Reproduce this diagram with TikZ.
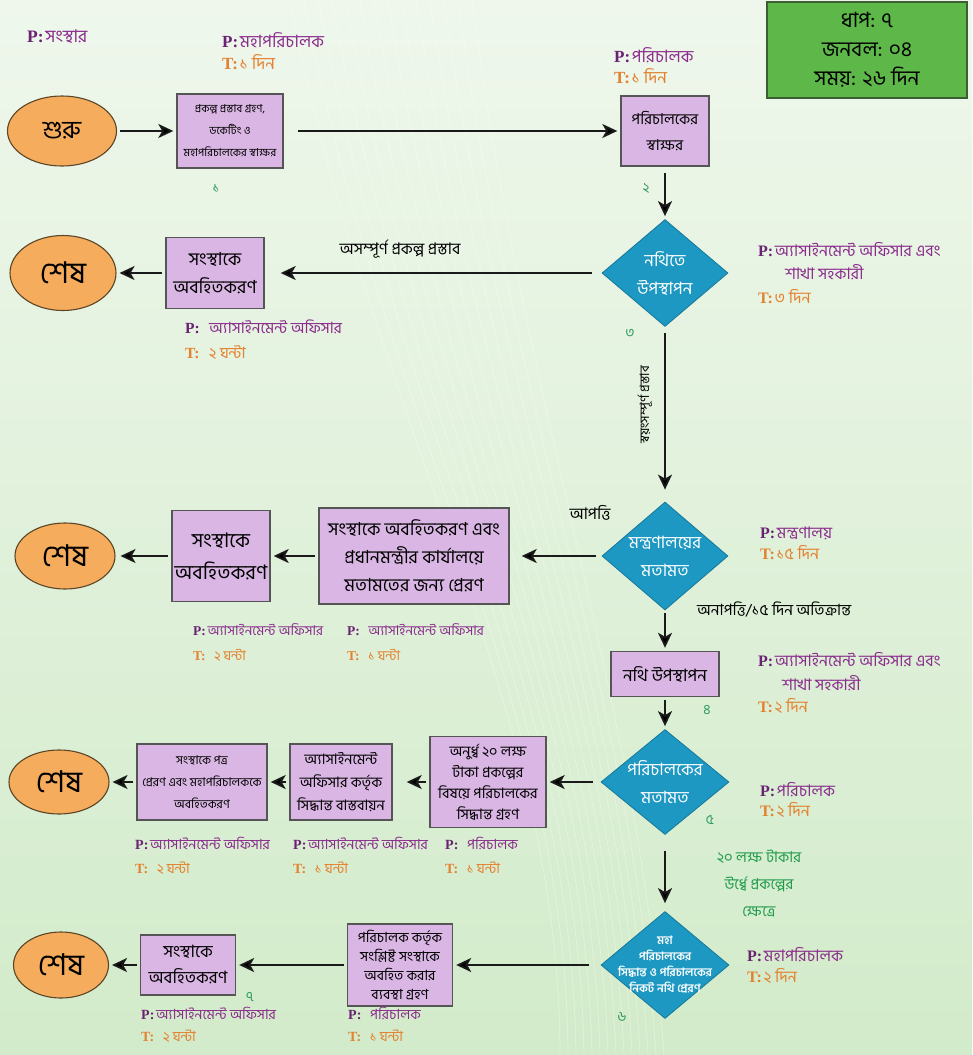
\documentclass[tikz,border=0pt]{standalone}
\usepackage{fontspec}
\newfontfamily\bn[Script=Bengali]{Hind Siliguri}
\newfontfamily\lat{Liberation Serif}
\usetikzlibrary{shapes.geometric, positioning, arrows.meta}

\definecolor{bgtop}{HTML}{EFF7EC}
\definecolor{bgbot}{HTML}{D2EBCA}
\definecolor{termfill}{HTML}{F5AC5C}
\definecolor{termline}{HTML}{5B4526}
\definecolor{taskfill}{HTML}{DAB6E4}
\definecolor{taskline}{HTML}{555555}
\definecolor{diafill}{HTML}{1C98C2}
\definecolor{dialine}{HTML}{15789A}
\definecolor{infofill}{HTML}{5DB749}
\definecolor{infoline}{HTML}{3B5E32}
\definecolor{pcol}{HTML}{8A2B8C}
\definecolor{pdark}{HTML}{6A2272}
\definecolor{tcol}{HTML}{E4802E}
\definecolor{numcol}{HTML}{2E9B5E}
\definecolor{condcol}{HTML}{1E9A4B}
\definecolor{arrowcol}{HTML}{1A1A1A}

\newcommand{\fsz}[2]{\fontsize{#1}{#2}\selectfont}
\newcommand{\who}[2][16]{{\lat\bfseries\fsz{#1}{#1}\color{pdark}P:}\,{\bn\fsz{#1}{#1}\color{pcol}#2}}
\newcommand{\took}[2][16]{{\lat\bfseries\fsz{#1}{#1}\color{tcol}T:}\,{\bn\fsz{#1}{#1}\color{tcol}#2}}

\begin{document}
\begin{tikzpicture}[x=1pt,y=-1pt,
  flow/.style={draw=arrowcol, line width=1.8pt, shorten <=3pt, shorten >=3pt,
    -{Stealth[length=15pt,width=14pt,inset=4pt]}},
  terminal/.style={ellipse, draw=termline, fill=termfill, line width=1.1pt,
    inner sep=0pt, font=\bn\fsz{30}{32}},
  task/.style={rectangle, draw=taskline, fill=taskfill, line width=1.4pt,
    align=center, inner sep=1pt},
  decision/.style={diamond, draw=dialine, fill=diafill, line width=0.8pt, inner sep=0pt},
  dtext/.style={text=white, align=center, inner sep=0pt},
  note/.style={anchor=west, inner sep=0pt},
  stepno/.style={text=numcol, font=\bn\fsz{14}{16}},
  cond/.style={font=\bn\fsz{16}{18}, text=black, inner sep=0pt}]

  % background
  \useasboundingbox (0,0) rectangle (972,1055);
  \fill[top color=bgtop, bottom color=bgbot] (0,0) rectangle (972,1055);
  \foreach \k in {0,...,13}
    \draw[white, opacity=.35, line width=.7pt]
      (290+\k*14,0) .. controls (370+\k*12,420) and (560+\k*6,700) .. (560+\k*8,1055);

  % summary
  \node[rectangle, draw=infoline, fill=infofill, line width=1.2pt,
    minimum width=200pt, minimum height=96pt, align=center,
    font=\bn\fsz{21}{29}] (info) at (867,50) {ধাপ: ৭\\জনবল: ০৪\\সময়: ২৬ দিন};

  % row 1
  \node[terminal, minimum width=109pt, minimum height=70pt, font=\bn\fsz{25}{28}]
    (start) at (62,131) {শুরু};
  \node[task, minimum width=106pt, minimum height=74pt, font=\bn\fsz{11}{22}]
    (sign1) at (230,131) {প্রকল্প প্রস্তাব গ্রহণ,\\ডকেটিং ও\\মহাপরিচালকের স্বাক্ষর};
  \node[task, minimum width=88pt, minimum height=70pt, font=\bn\fsz{15}{26}]
    (sign2) at (665,131) {পরিচালকের\\স্বাক্ষর};

  % row 2
  \node[decision, minimum width=126pt, minimum height=107pt] (file) at (665,273) {};
  \node[dtext, font=\bn\fsz{17}{28}] (filetxt) at (file) {নথিতে\\উপস্থাপন};
  \node[task, minimum width=98pt, minimum height=71pt, font=\bn\fsz{18}{28}]
    (notify1) at (215,273) {সংস্থাকে\\অবহিতকরণ};
  \node[terminal, minimum width=106pt, minimum height=75pt] (end1) at (63,273) {শেষ};

  % row 3
  \node[decision, minimum width=126pt, minimum height=108pt] (ministry) at (665,556) {};
  \node[dtext, font=\bn\fsz{17}{28}] (ministrytxt) at (ministry) {মন্ত্রণালয়ের\\মতামত};
  \node[task, minimum width=190pt, minimum height=96pt, font=\bn\fsz{18}{28}]
    (forward) at (414,556) {সংস্থাকে অবহিতকরণ এবং\\প্রধানমন্ত্রীর কার্যালয়ে\\মতামতের জন্য প্রেরণ};
  \node[task, minimum width=98pt, minimum height=91pt, font=\bn\fsz{20}{32}]
    (notify2) at (221,556) {সংস্থাকে\\অবহিতকরণ};
  \node[terminal, minimum width=100pt, minimum height=66pt] (end2) at (65,556) {শেষ};

  % row 4
  \node[task, minimum width=108pt, minimum height=45pt, font=\bn\fsz{17}{20}]
    (file2) at (665,674) {নথি উপস্থাপন};
  \node[decision, minimum width=128pt, minimum height=105pt] (director) at (665,782) {};
  \node[dtext, font=\bn\fsz{17}{28}] (directortxt) at (director) {পরিচালকের\\মতামত};
  \node[task, minimum width=116pt, minimum height=91pt, font=\bn\fsz{14.5}{21}]
    (decide) at (488,782) {অনুর্ধ্ব ২০ লক্ষ\\টাকা প্রকল্পের\\বিষয়ে পরিচালকের\\সিদ্ধান্ত গ্রহণ};
  \node[task, minimum width=102pt, minimum height=76pt, font=\bn\fsz{14.5}{23}]
    (implement) at (341,782) {অ্যাসাইনমেন্ট\\অফিসার কর্তৃক\\সিদ্ধান্ত বাস্তবায়ন};
  \node[task, minimum width=130pt, minimum height=76pt, font=\bn\fsz{12}{22}]
    (letter) at (202,782) {সংস্থাকে পত্র\\প্রেরণ এবং মহাপরিচালককে\\অবহিতকরণ};
  \node[terminal, minimum width=100pt, minimum height=64pt] (end3) at (59,782) {শেষ};

  % row 5
  \node[decision, minimum width=128pt, minimum height=107pt] (dg) at (665,965) {};
  \node[dtext, font=\bn\bfseries\fsz{11.5}{16}] (dgtxt) at (dg)
    {মহা\\পরিচালকের\\সিদ্ধান্ত ও পরিচালকের\\নিকট নথি প্রেরণ};
  \node[task, minimum width=105pt, minimum height=82pt, font=\bn\fsz{14}{19}]
    (arrange) at (400,965) {পরিচালক কর্তৃক\\সংশ্লিষ্ট সংস্থাকে\\অবহিত করার\\ব্যবস্থা গ্রহণ};
  \node[task, minimum width=95pt, minimum height=60pt, font=\bn\fsz{17}{26}]
    (notify3) at (188,965) {সংস্থাকে\\অবহিতকরণ};
  \node[terminal, minimum width=95pt, minimum height=66pt] (end4) at (61,965) {শেষ};

  % connectors
  \path[flow]
    (start) edge (sign1)
    (sign1) edge[shorten <=14pt] (sign2)
    (sign2) edge[shorten <=6pt] (file)
    (file) edge[shorten <=10pt, shorten >=16pt] (notify1)
    (notify1) edge (end1)
    (file) edge[shorten <=6pt, shorten >=12pt] (ministry)
    (ministry) edge[shorten <=6pt, shorten >=12pt] (forward)
    (forward) edge (notify2)
    (notify2) edge[shorten >=5pt] (end2)
    (ministry) edge (file2)
    (file2) edge (director)
    (director) edge[shorten <=8pt] (decide)
    (decide) edge[shorten >=14pt] (implement)
    (implement) edge (letter)
    (letter) edge (end3)
    (director) edge[shorten <=16pt, shorten >=8pt] (dg)
    (dg) edge[shorten <=12pt] (arrange)
    (arrange) edge (notify3)
    (notify3) edge (end4);

  % connector labels
  \node[cond] (incomplete) at (400,249) {অসম্পূর্ণ প্রকল্প প্রস্তাব};
  \node[cond, rotate=90, font=\bn\fsz{13}{15}] (complete) at (645,405) {স্বয়ংসম্পূর্ণ প্রস্তাব};
  \node[cond] (objection) at (590,513) {আপত্তি};
  \node[cond, anchor=west, font=\bn\fsz{15.5}{17}] (noobjection) at (697,609) {অনাপত্তি/১৫ দিন অতিক্রান্ত};
  \node[cond, text=condcol, align=center, font=\bn\fsz{15}{27}] (above20) at (759,884)
    {২০ লক্ষ টাকার\\উর্ধ্বে প্রকল্পের\\ক্ষেত্রে};

  % step numbers
  \node[stepno] (n1) at (216,188) {১};
  \node[stepno] (n2) at (646,188) {২};
  \node[stepno] (n3) at (630,333) {৩};
  \node[stepno] (n4) at (707,710) {৪};
  \node[stepno] (n5) at (710,820) {৫};
  \node[stepno] (n6) at (622,1017) {৬};
  \node[stepno] (n7) at (250,997) {৭};

  % persons and times
  \node[note] (p0) at (27,37) {\who[17.5]{সংস্থার}};
  \node[note] (p1) at (222,40) {\who[17]{মহাপরিচালক}};
  \node[note] (t1) at (222,62) {\took[17]{১ দিন}};
  \node[note] (p2) at (614,55) {\who[17]{পরিচালক}};
  \node[note] (t2) at (614,76) {\took[17]{১ দিন}};
  \node[note] (p3) at (758,250) {\who{অ্যাসাইনমেন্ট অফিসার এবং}};
  \node[note, text=pcol, font=\bn\fsz{16}{18}] (p3b) at (785,272) {শাখা সহকারী};
  \node[note] (t3) at (758,297) {\took{৩ দিন}};
  \node[note] (p3n) at (185,327) {\who[15.5]{\enspace অ্যাসাইনমেন্ট অফিসার}};
  \node[note] (t3n) at (185,353) {\took[15.5]{\enspace ২ ঘন্টা}};
  \node[note] (p4) at (760,533) {\who{মন্ত্রণালয়}};
  \node[note] (t4) at (760,553) {\took{১৫ দিন}};
  \node[note] (p4a) at (193,630) {\who[13.5]{অ্যাসাইনমেন্ট অফিসার}};
  \node[note] (t4a) at (193,655) {\took[13.5]{\enspace ২ ঘন্টা}};
  \node[note] (p4b) at (347,630) {\who[13.5]{\enspace অ্যাসাইনমেন্ট অফিসার}};
  \node[note] (t4b) at (347,655) {\took[13.5]{\enspace ১ ঘন্টা}};
  \node[note] (p5) at (758,660) {\who{অ্যাসাইনমেন্ট অফিসার এবং}};
  \node[note, text=pcol, font=\bn\fsz{16}{18}] (p5b) at (782,683) {শাখা সহকারী};
  \node[note] (t5) at (758,706) {\took{২ দিন}};
  \node[note] (p6) at (760,790) {\who{পরিচালক}};
  \node[note] (t6) at (760,810) {\took{২ দিন}};
  \node[note] (p6a) at (135,843) {\who[14]{অ্যাসাইনমেন্ট অফিসার}};
  \node[note] (t6a) at (135,868) {\took[14]{\enspace ২ ঘন্টা}};
  \node[note] (p6b) at (293,843) {\who[14]{অ্যাসাইনমেন্ট অফিসার}};
  \node[note] (t6b) at (293,868) {\took[14]{\enspace ১ ঘন্টা}};
  \node[note] (p6c) at (445,843) {\who[14]{\enspace পরিচালক}};
  \node[note] (t6c) at (445,868) {\took[14]{\enspace ১ ঘন্টা}};
  \node[note] (p7) at (747,955) {\who{মহাপরিচালক}};
  \node[note] (t7) at (747,976) {\took{২ দিন}};
  \node[note] (p7a) at (141,1013) {\who[14]{অ্যাসাইনমেন্ট অফিসার}};
  \node[note] (t7a) at (141,1036) {\took[14]{\enspace ২ ঘন্টা}};
  \node[note] (p7b) at (348,1013) {\who[14]{\enspace পরিচালক}};
  \node[note] (t7b) at (348,1036) {\took[14]{\enspace ১ ঘন্টা}};
\end{tikzpicture}
\end{document}
